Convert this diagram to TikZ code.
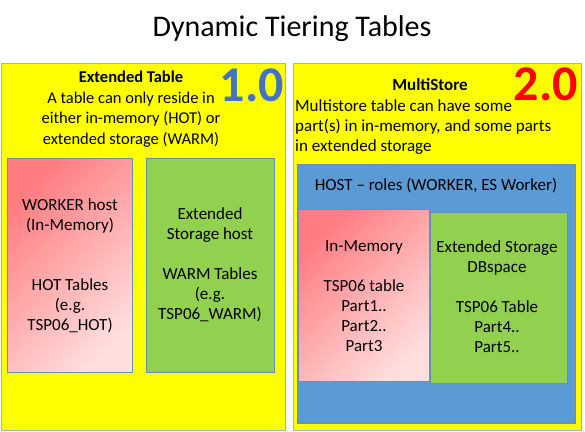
\documentclass[tikz,border=0pt]{standalone}
\usepackage{fontspec}
\setmainfont{Carlito}

\definecolor{panelyellow}{HTML}{FFFF00}
\definecolor{panelline}{HTML}{9DB4CF}
\definecolor{boxline}{HTML}{6A8DB5}
\definecolor{storagegreen}{HTML}{92D050}
\definecolor{hostblue}{HTML}{5B9BD5}
\definecolor{memdark}{HTML}{FF7C80}
\definecolor{memlight}{HTML}{FFDEDE}
\definecolor{verblue}{HTML}{4472C4}
\definecolor{verred}{HTML}{FF0000}

\tikzset{
	panel/.style={draw=panelline, fill=panelyellow, line width=1pt, anchor=north west, inner sep=0pt},
	membox/.style={draw=boxline, line width=0.8pt, left color=memdark, right color=memlight, shading angle=45, anchor=north west, inner sep=0pt},
	esbox/.style={draw=boxline, line width=0.8pt, fill=storagegreen, anchor=north west, inner sep=0pt},
	hostbox/.style={draw=boxline, line width=0.8pt, fill=hostblue, anchor=north west, inner sep=0pt},
	bodytext/.style={align=center, inner sep=0pt, font=\fontsize{17}{20}\selectfont},
	version/.style={inner sep=0pt, font=\fontsize{50}{50}\selectfont\bfseries},
}

\begin{document}
\begin{tikzpicture}[x=1pt, y=-1pt]
		\useasboundingbox (0,0) rectangle (585,431);

		\node[font=\fontsize{30}{36}\selectfont] (title) at (292,29) {Dynamic Tiering Tables};

		% Extended Table (1.0)
		\node[panel, minimum width=284pt, minimum height=367pt] (leftpanel) at (1,63) {};
		\node[bodytext, font=\fontsize{16.5}{20.5}\selectfont] (lefthead) at (131,109) {\textbf{Extended Table}\\A table can only reside in\\either in-memory (HOT) or\\extended storage (WARM)};
		\node[version, text=verblue] (one) at (252,85) {1.0};

		\node[membox, minimum width=125pt, minimum height=214pt] (worker) at (7,158) {};
		\node[bodytext] (workertext) at (70,266) {WORKER host\\(In-Memory)\\[40pt]HOT Tables\\(e.g.\\TSP06\_HOT)};
		\node[esbox, minimum width=128pt, minimum height=214pt] (eshost) at (146,158) {};
		\node[bodytext] (eshosttext) at (210,265) {Extended\\Storage host\\[20pt]WARM Tables\\(e.g.\\TSP06\_WARM)};

		% MultiStore (2.0)
		\node[panel, minimum width=288pt, minimum height=367pt] (rightpanel) at (293,63) {};
		\node[bodytext] (righthead) at (430,85) {\textbf{MultiStore}};
		\node[bodytext, align=left, anchor=west] (righttext) at (295,127) {Multistore table can have some\\part(s) in in-memory, and some parts\\in extended storage};
		\node[version, text=verred] (two) at (546,84) {2.0};

		\node[hostbox, minimum width=278pt, minimum height=259pt] (host) at (297,164) {};
		\node[bodytext] (hosttext) at (436,185) {HOST -- roles (WORKER, ES Worker)};
		\node[membox, minimum width=131pt, minimum height=172pt] (inmem) at (298,209) {};
		\node[bodytext] (inmemtext) at (364,296) {In-Memory\\[20pt]TSP06 table\\Part1..\\Part2..\\Part3};
		\node[esbox, minimum width=137pt, minimum height=171pt] (dbspace) at (430,212) {};
		\node[bodytext] (dbspacetext) at (497,297) {Extended Storage\\DBspace\\[20pt]TSP06 Table\\Part4..\\Part5..};

	\end{tikzpicture}
\end{document}
